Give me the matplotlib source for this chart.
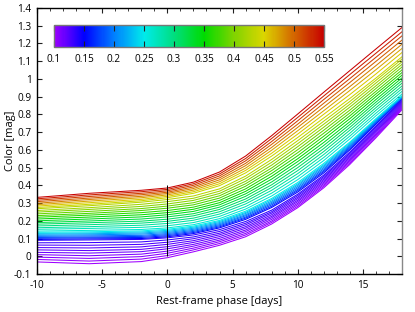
import numpy as np
import matplotlib
matplotlib.use('Agg')
import matplotlib.pyplot as plt
from matplotlib.colors import LinearSegmentedColormap, Normalize
from matplotlib.cm import ScalarMappable
from matplotlib.ticker import MultipleLocator, FuncFormatter

plt.rcParams['font.family'] = ['Open Sans', 'DejaVu Sans']

# rest-frame phases (days) at which each colour curve is sampled
phase = [-10, -6, -2, 0, 2, 4, 6, 8, 10, 12, 14, 16, 18]

# colour-bar parameter of each curve, bottom to top
line_param = [0.100, 0.104, 0.108, 0.112, 0.116, 0.120, 0.124, 0.128, 0.132, 0.136,
              0.150, 0.164, 0.179, 0.193, 0.207, 0.221, 0.236, 0.250,
              0.260, 0.273, 0.286, 0.299, 0.312, 0.325, 0.338, 0.352, 0.365, 0.378,
              0.391, 0.404, 0.417, 0.430,
              0.440, 0.456, 0.471, 0.487, 0.503, 0.519, 0.534, 0.550]

# colour of each curve (mmag) at every phase above
col_m10 = [-32, -18, -5, 9, 22, 36, 49, 63, 76, 90,
           95, 101, 106, 112, 118, 124, 129, 135,
           142, 152, 161, 171, 181, 190, 200, 210, 220, 229, 239, 249, 258, 268,
           275, 283, 291, 299, 308, 316, 324, 332]
col_m6 = [-42, -27, -12, 3, 18, 32, 47, 62, 77, 92,
          98, 104, 109, 115, 121, 127, 132, 138,
          146, 157, 167, 178, 189, 199, 210, 221, 232, 242, 253, 264, 274, 285,
          293, 302, 311, 320, 328, 337, 346, 355]
col_m2 = [-30, -16, -2, 12, 26, 39, 53, 67, 81, 95,
          100, 106, 112, 118, 125, 131, 137, 143,
          151, 163, 175, 187, 198, 210, 222, 234, 246, 258, 269, 281, 293, 305,
          313, 321, 330, 338, 347, 355, 364, 372]
col_0 = [-8, 4, 17, 29, 42, 54, 67, 79, 92, 104,
         110, 116, 122, 128, 134, 140, 146, 152,
         160, 172, 185, 197, 209, 222, 234, 246, 258, 271, 283, 295, 308, 320,
         330, 338, 346, 354, 361, 369, 377, 385]
col_p2 = [25, 36, 46, 57, 67, 78, 88, 99, 109, 120,
          128, 134, 140, 146, 152, 158, 164, 170,
          178, 190, 203, 215, 228, 240, 253, 265, 277, 290, 302, 315, 327, 340,
          355, 364, 373, 382, 391, 400, 409, 418]
col_p4 = [62, 72, 82, 91, 101, 111, 121, 130, 140, 150,
          160, 166, 172, 178, 184, 190, 196, 202,
          212, 225, 238, 251, 264, 277, 290, 302, 315, 328, 341, 354, 367, 380,
          398, 409, 420, 431, 442, 453, 464, 475]
col_p6 = [110, 120, 129, 139, 148, 158, 167, 177, 186, 196,
          208, 215, 221, 228, 234, 241, 247, 254,
          266, 280, 295, 309, 323, 338, 352, 366, 380, 395, 409, 423, 438, 452,
          470, 484, 497, 511, 524, 538, 551, 565]
col_p8 = [182, 191, 199, 208, 217, 225, 234, 243, 251, 260,
          275, 282, 290, 297, 304, 311, 319, 326,
          340, 356, 372, 388, 403, 419, 435, 451, 467, 483, 498, 514, 530, 546,
          565, 581, 598, 614, 631, 647, 664, 680]
col_p10 = [274, 282, 291, 299, 308, 316, 325, 333, 342, 350,
           362, 370, 377, 385, 393, 401, 408, 416,
           432, 449, 466, 483, 500, 517, 534, 550, 567, 584, 601, 618, 635, 652,
           670, 689, 708, 727, 745, 764, 783, 802]
col_p12 = [386, 394, 402, 410, 418, 426, 434, 442, 450, 458,
           470, 478, 485, 493, 501, 509, 516, 524,
           540, 557, 574, 591, 608, 625, 642, 660, 677, 694, 711, 728, 745, 762,
           780, 801, 821, 842, 863, 884, 904, 925]
col_p14 = [518, 526, 534, 541, 549, 557, 565, 572, 580, 588,
           600, 606, 613, 619, 625, 631, 638, 644,
           662, 678, 694, 711, 727, 743, 759, 776, 792, 808, 824, 841, 857, 873,
           890, 912, 935, 957, 980, 1002, 1025, 1047]
col_p16 = [668, 675, 683, 690, 698, 705, 713, 720, 728, 735,
           745, 749, 754, 758, 763, 767, 772, 776,
           792, 807, 823, 838, 854, 869, 884, 900, 915, 930, 946, 961, 977, 992,
           1005, 1028, 1052, 1075, 1099, 1122, 1145, 1169]
col_p18 = [826, 832, 838, 844, 850, 856, 862, 868, 874, 880,
           888, 890, 893, 895, 898, 900, 903, 905,
           915, 930, 945, 960, 976, 991, 1006, 1021, 1036, 1051, 1067, 1082, 1097, 1112,
           1125, 1149, 1172, 1196, 1219, 1243, 1266, 1290]

cbar_ticks = [0.1, 0.15, 0.2, 0.25, 0.3, 0.35, 0.4, 0.45, 0.5, 0.55]

curves = np.array([col_m10, col_m6, col_m2, col_0, col_p2, col_p4, col_p6,
                   col_p8, col_p10, col_p12, col_p14, col_p16, col_p18]).T / 1000.0

cmap = LinearSegmentedColormap.from_list('pal', [
    (0.0, (0.62, 0.0, 1.0)),
    (1 / 9, (0.0, 0.0, 1.0)),
    (2 / 9, (0.0, 0.5, 1.0)),
    (3 / 9, (0.0, 0.92, 0.92)),
    (4 / 9, (0.0, 0.87, 0.5)),
    (5 / 9, (0.0, 0.86, 0.0)),
    (6 / 9, (0.5, 0.83, 0.0)),
    (7 / 9, (0.86, 0.84, 0.0)),
    (8 / 9, (0.83, 0.4, 0.0)),
    (1.0, (0.78, 0.0, 0.0)),
])
norm = Normalize(0.1, 0.55)

fig = plt.figure(figsize=(4.15, 3.12), dpi=100)
ax = fig.add_axes([0.0892, 0.1218, 0.8795, 0.8526])

for p, row in zip(line_param, curves):
    ax.plot(phase, row, color=cmap(norm(p)), lw=0.75)
ax.vlines(0, 0, 0.4, color='k', lw=0.7)

ax.set_xlim(-10, 18)
ax.set_ylim(-0.1, 1.4)
ax.xaxis.set_major_locator(MultipleLocator(5))
ax.xaxis.set_minor_locator(MultipleLocator(1))
ax.yaxis.set_major_locator(MultipleLocator(0.1))
fmt = FuncFormatter(lambda v, _: f"{round(v, 2) + 0.0:g}")
ax.xaxis.set_major_formatter(fmt)
ax.yaxis.set_major_formatter(fmt)
ax.tick_params(which='both', direction='in', top=True, right=True,
               labelsize=7.2, pad=4, color='#222')
ax.tick_params(which='major', length=3.5)
ax.tick_params(which='minor', length=2)
for s in ax.spines.values():
    s.set_linewidth(1)
ax.spines['right'].set_color('#888')
ax.set_xlabel('Rest-frame phase [days]', fontsize=8)
ax.set_ylabel('Color [mag]', fontsize=8)
ax.xaxis.set_label_coords(0.5, -0.105)
ax.xaxis.label.set_va('center')
ax.yaxis.set_label_coords(-0.074, 0.5)
ax.yaxis.label.set_va('center')

cax = fig.add_axes([0.130, 0.849, 0.651, 0.0705])
cb = fig.colorbar(ScalarMappable(norm=norm, cmap=cmap), cax=cax, orientation='horizontal')
cb.set_ticks(cbar_ticks)
cb.set_ticklabels([f"{t:g}" for t in cbar_ticks])
cax.tick_params(direction='in', top=True, bottom=True, length=4, labelsize=7.2,
                pad=5, color='#222')
cb.outline.set_edgecolor('#777')
cb.outline.set_linewidth(1)

fig.savefig('out.png', dpi=100)
